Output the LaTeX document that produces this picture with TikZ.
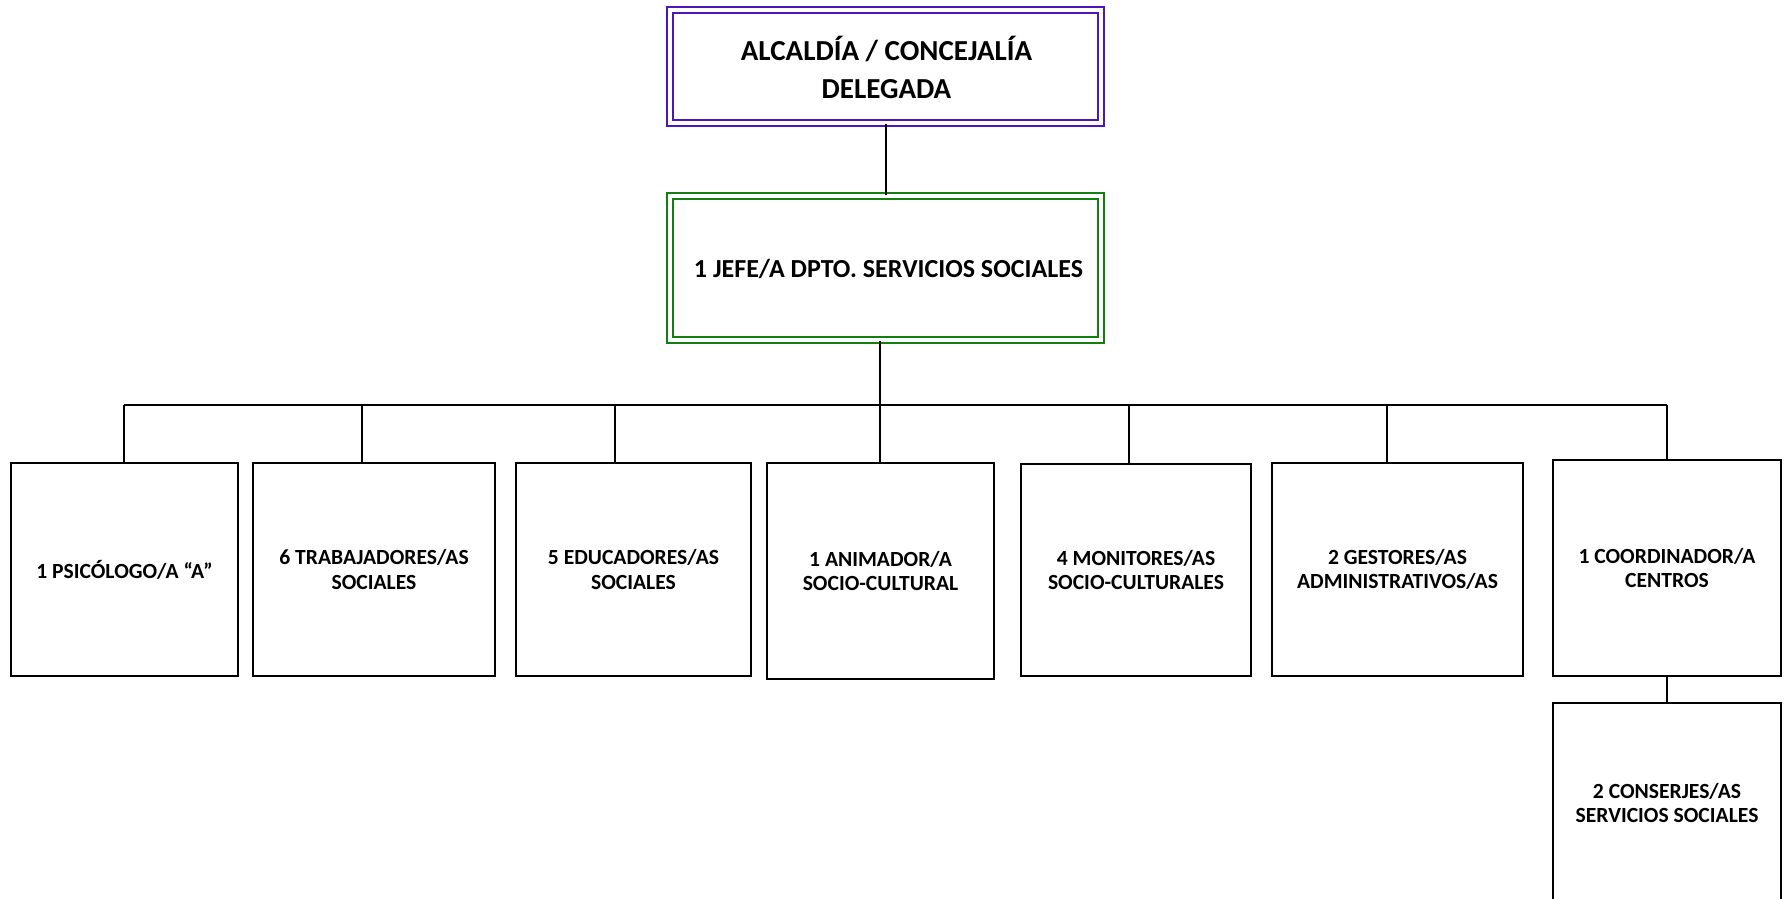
\documentclass[tikz,border=0pt]{standalone}
\usepackage{fontspec}
\setmainfont{Carlito}
\definecolor{headpurple}{RGB}{78,22,186}
\definecolor{headgreen}{RGB}{16,128,16}
\begin{document}
\begin{tikzpicture}[x=1pt,y=-1pt,
  unitbox/.style={draw=black, line width=2pt, fill=white, inner sep=0pt,
    align=center, font=\bfseries\fontsize{21.6}{24.5}\selectfont},
  headbox/.style={line width=2pt, double=white, double distance=4pt,
    inner sep=0pt},
  headtext/.style={inner sep=0pt, align=center},
  link/.style={draw=black, line width=2pt}]
\useasboundingbox (0,0) rectangle (1785,899);
\clip (0,0) rectangle (1785,899);

% top levels: double frames, then their captions
\node[headbox, draw=headpurple, minimum width=431pt, minimum height=113pt] (alc) at (885.5,66.5) {};
\node[headtext, font=\bfseries\fontsize{29}{37.5}\selectfont] (alctext)
  at ([xshift=1pt,yshift=-1pt]alc.center) {ALCALDÍA / CONCEJALÍA\\DELEGADA};
\node[headbox, draw=headgreen, minimum width=431pt, minimum height=144pt] (jefe) at (885.5,268) {};
\node[headtext, font=\bfseries\fontsize{26}{31}\selectfont] (jefetext)
  at ([xshift=3pt,yshift=-1pt]jefe.center) {1 JEFE/A DPTO. SERVICIOS SOCIALES};

% units
\node[unitbox, minimum width=227pt, minimum height=213pt] (psi) at (124.5,569.5) {1 PSICÓLOGO/A “A”};
\node[unitbox, minimum width=242pt, minimum height=213pt] (tra) at (374,569.5) {6 TRABAJADORES/AS\\SOCIALES};
\node[unitbox, minimum width=235pt, minimum height=213pt] (edu) at (633.5,569.5) {5 EDUCADORES/AS\\SOCIALES};
\node[unitbox, minimum width=227pt, minimum height=216pt] (ani) at (880.5,571) {1 ANIMADOR/A\\SOCIO-CULTURAL};
\node[unitbox, minimum width=230pt, minimum height=212pt] (mon) at (1136,570) {4 MONITORES/AS\\SOCIO-CULTURALES};
\node[unitbox, minimum width=251pt, minimum height=213pt] (ges) at (1397.5,569.5) {2 GESTORES/AS\\ADMINISTRATIVOS/AS};
\node[unitbox, minimum width=228pt, minimum height=216pt] (coo) at (1667,568) {1 COORDINADOR/A\\CENTROS};
\node[unitbox, minimum width=228pt, minimum height=200pt] (con) at (1667,803) {2 CONSERJES/AS\\SERVICIOS SOCIALES};

% bus points
\coordinate (bpsi) at (124,405);
\coordinate (btra) at (362,405);
\coordinate (bedu) at (615,405);
\coordinate (bani) at (880,405);
\coordinate (bmon) at (1129,405);
\coordinate (bges) at (1387,405);
\coordinate (bcoo) at (1667,405);

% connectors
\draw[link] (alc.south) -- (jefe.north);
\draw[link] (jefe.south -| bani) -- (ani.north -| bani);
\draw[link] (bpsi) -- (bcoo);
\foreach \b/\n in {bpsi/psi, btra/tra, bedu/edu, bmon/mon, bges/ges, bcoo/coo}
  \draw[link] (\b) -- (\b |- \n.north);
\draw[link] (coo.south) -- (con.north);
\end{tikzpicture}
\end{document}
